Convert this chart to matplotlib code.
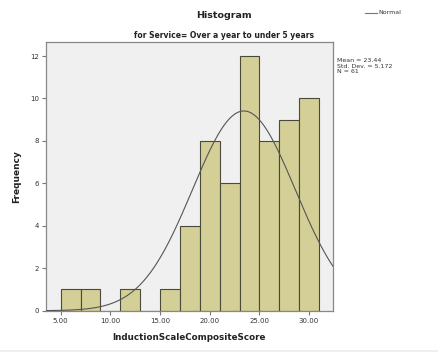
import numpy as np
import matplotlib.pyplot as plt
from matplotlib.lines import Line2D
from matplotlib.patches import Rectangle

# Histogram counts, bins of width 2 starting at 5
bin_edges = [5, 7, 9, 11, 13, 15, 17, 19, 21, 23, 25, 27, 29, 31]
counts = [1, 1, 0, 1, 0, 1, 4, 8, 6, 12, 8, 9, 10]
mean = 23.44
std_dev = 5.172
n = 61

xticks = [5, 10, 15, 20, 25, 30]
yticks = [0, 2, 4, 6, 8, 10, 12]

fig = plt.figure(figsize=(4.38, 3.52), dpi=100)
fig.patch.set_facecolor('white')
ax = fig.add_axes([0.105, 0.1173, 0.655, 0.7634])
ax.set_facecolor('#f0f0f0')

widths = np.diff(bin_edges)
ax.bar(bin_edges[:-1], counts, width=widths, align='edge',
       color='#d4cf97', edgecolor='#4a4a3a', linewidth=0.8, zorder=2)

# normal curve scaled to counts
xs = np.linspace(3.52, 32.4, 300)
bw = bin_edges[1] - bin_edges[0]
ys = n * bw / (std_dev * np.sqrt(2 * np.pi)) * np.exp(-0.5 * ((xs - mean) / std_dev) ** 2)
ax.plot(xs, ys, color='#555555', linewidth=0.8, zorder=3)

ax.set_xlim(3.52, 32.4)
ax.set_ylim(0, 12.66)
ax.set_xticks(xticks)
ax.set_xticklabels(['%.2f' % t for t in xticks])
ax.set_yticks(yticks)
ax.tick_params(direction='out', length=3, width=0.8, color='#777777',
               labelsize=5, labelcolor='#333333', pad=2)
for s in ax.spines.values():
    s.set_color('#888888')
    s.set_linewidth(0.9)

ax.set_xlabel('InductionScaleCompositeScore', fontsize=6.3, fontweight='bold',
              color='#222222', labelpad=7)
ax.set_ylabel('Frequency', fontsize=6.5, fontweight='bold', color='#222222')
ax.yaxis.set_label_coords(-0.087, 0.5)

fig.text(224 / 438, 1 - 15 / 352, 'Histogram', ha='center', va='center',
         fontsize=6.8, fontweight='bold', color='#222222')
fig.text(224 / 438, 1 - 35 / 352, 'for Service= Over a year to under 5 years',
         ha='center', va='center', fontsize=5.5, fontweight='bold', color='#222222')

fig.text(337 / 438, 1 - 66 / 352,
         'Mean = %.2f\nStd. Dev. = %.3f\nN = %d' % (mean, std_dev, n),
         ha='left', va='center', fontsize=4.5, color='#333333', linespacing=1.1)

fig.add_artist(Line2D([365 / 438, 377 / 438], [1 - 13 / 352, 1 - 13 / 352],
                      transform=fig.transFigure, color='#777777', linewidth=0.8))
fig.text(378 / 438, 1 - 13 / 352, 'Normal', ha='left', va='center',
         fontsize=4.5, color='#333333')

fig.add_artist(Rectangle((0, 0), 1, 2.5 / 352, transform=fig.transFigure,
                         facecolor='#eeeeee', edgecolor='none'))

fig.savefig('out.png', dpi=100)
